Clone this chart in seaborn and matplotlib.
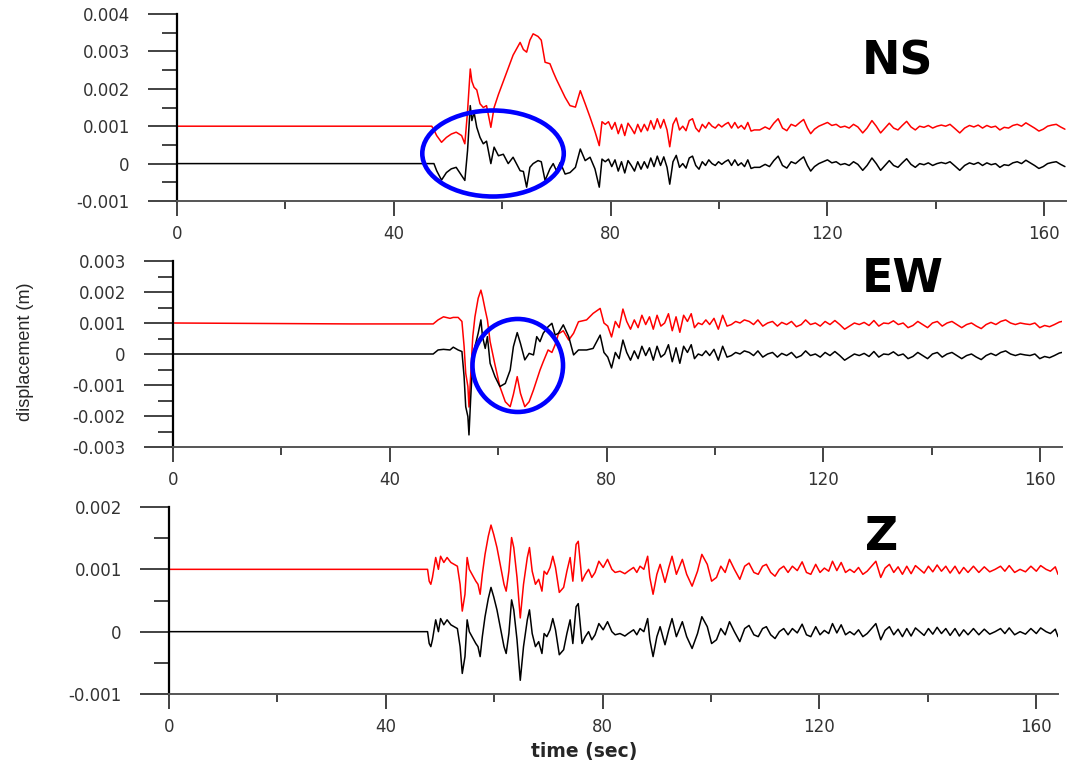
import numpy as np
import matplotlib
matplotlib.use("Agg")
import matplotlib.pyplot as plt
from matplotlib.patches import Ellipse
import seaborn as sns

sns.set_theme(style="ticks")
plt.rcParams['font.family'] = ['DejaVu Sans']

# ---------------------------------------------------------
# DATA  (time in s, displacement in units of 0.001 m)
# red record is drawn shifted up by 0.001 m
# ---------------------------------------------------------
# --- NS ---
ns_t = [0, 47.0, 47.4, 47.9, 48.8, 49.7, 50.6, 51.5, 52.5, 53.1,
        53.6, 54.1, 54.4, 54.8, 55.3, 55.9, 56.5, 57.1, 57.9, 58.5,
        59.3, 60.2, 61.1, 62.0, 63.3, 63.9, 64.5, 65.1, 65.7, 66.6,
        67.2, 67.9, 68.8, 69.4, 70.0, 70.7, 71.6, 72.5, 73.5, 74.4,
        75.3, 76.2, 77.1, 77.9]
ns_black = [0, 0, 0, -0.19, -0.44, -0.24, -0.14, -0.10, -0.32, -0.45,
            0.35, 1.55, 1.15, 1.37, 0.97, 0.70, 0.53, 0.60, 0.00, 0.44,
            0.21, 0.25, 0.00, 0.17, -0.19, -0.21, -0.63, -0.10, 0.00, 0.08,
            0.05, -0.45, -0.14, 0.00, -0.19, 0.03, -0.28, -0.24, -0.10, 0.39,
            0.08, 0.17, -0.14, -0.63]
ns_red = [0, 0, -0.10, -0.25, -0.43, -0.30, -0.21, -0.16, -0.25, -0.47,
          0.40, 1.53, 1.20, 1.04, 0.97, 0.60, 0.50, 0.55, -0.03, 0.50,
          0.85, 1.20, 1.55, 1.90, 2.24, 2.05, 1.98, 2.30, 2.47, 2.40,
          2.30, 1.71, 1.67, 1.45, 1.25, 1.04, 0.77, 0.55, 0.51, 0.95,
          0.60, 0.24, -0.14, -0.52]
ns_tail_t = [78.4, 79.0, 79.6, 80.2, 80.8, 81.4, 82.0, 82.6, 83.2, 83.8,
             84.4, 85.0, 85.6, 86.2, 86.8, 87.4, 88.0, 88.6, 89.2, 89.8,
             90.4, 90.9, 91.5, 92.1, 92.7, 93.3, 93.9, 94.5, 95.1, 95.7,
             96.3, 96.9, 97.5, 98.1, 98.7, 99.3, 99.9, 100.5, 101.1, 101.7,
             102.3, 102.9, 103.5, 104.1, 104.7, 105.3, 105.9, 106.5, 107.5, 108.5,
             109.3, 110.1, 110.9, 111.7, 112.5, 113.3, 114.1, 114.9, 115.6, 116.3,
             116.9, 117.6, 118.4, 119.2, 120.0, 120.8, 121.6, 122.4, 123.2, 124.0,
             124.8, 125.6, 126.5, 127.3, 128.2, 129.0, 129.8, 130.6, 131.4, 132.2,
             133.0, 133.8, 134.6, 135.4, 136.2, 137.0, 137.8, 138.6, 139.4, 140.2,
             141.0, 141.8, 142.6, 143.4, 144.4, 145.3, 146.2, 147.0, 147.8, 148.6,
             149.4, 150.2, 151.0, 151.8, 152.6, 153.4, 154.2, 155.0, 155.8, 156.6,
             157.4, 158.2, 159.0, 159.8, 160.6, 161.4, 162.2, 163.0, 163.8]
ns_tail = [0.12, 0.05, 0.12, -0.08, 0.10, -0.20, 0.05, -0.25, 0.08, -0.05,
           -0.20, 0.05, -0.15, 0.05, -0.12, 0.15, -0.08, 0.20, -0.05, 0.18,
           -0.10, -0.55, 0.05, 0.22, -0.10, 0.00, -0.12, 0.15, 0.20, -0.05,
           -0.15, 0.05, -0.05, 0.10, 0.00, -0.05, 0.05, -0.02, 0.05, 0.10,
           -0.05, 0.10, -0.05, 0.02, -0.08, 0.10, -0.13, -0.10, -0.10, -0.02,
           -0.08, 0.08, 0.20, -0.05, -0.12, 0.05, 0.00, 0.10, 0.18, -0.05,
           -0.20, -0.08, 0.00, 0.05, 0.10, 0.02, 0.05, -0.03, 0.00, -0.05,
           0.05, -0.02, -0.18, -0.05, 0.15, 0.00, -0.18, -0.05, 0.08, -0.05,
           -0.10, 0.02, 0.13, -0.02, -0.10, 0.00, -0.03, 0.02, -0.05, 0.00,
           0.03, 0.00, 0.05, -0.05, -0.18, -0.05, 0.02, -0.02, 0.03, -0.05,
           0.02, -0.03, 0.00, -0.10, -0.03, -0.05, 0.02, 0.05, 0.00, 0.09,
           0.02, -0.05, -0.13, -0.08, 0.00, 0.03, 0.05, -0.02, -0.08]

# --- EW ---
ew_t = [0, 33.0, 48.0, 48.9, 49.9, 51.1, 51.7, 52.6, 53.3, 53.7,
        54.0, 54.4, 54.6, 54.9, 55.3, 55.7, 56.3, 56.8, 57.1, 57.6,
        58.0, 58.5, 59.4, 60.3, 61.3, 62.2, 62.8, 63.5, 64.1, 64.9,
        65.7, 66.5, 67.1, 67.7, 68.3, 69.2, 69.9, 70.5, 71.1, 72.0,
        73.0, 73.9, 74.8, 76.3, 77.5, 78.8, 79.5]
ew_black = [0, 0, 0, 0.13, 0.15, 0.13, 0.22, 0.13, 0.08, -0.73,
            -1.70, -2.02, -2.61, -1.48, -0.19, 0.24, 0.67, 1.10, 0.56, 0.18,
            0.56, -0.30, -0.73, -1.05, -0.95, -0.52, 0.24, 0.69, 0.34, -0.19,
            0.02, -0.03, 0.56, 0.40, 0.67, 0.88, 0.99, 0.61, 0.67, 0.94,
            0.56, -0.03, 0.13, 0.13, 0.18, 0.61, 0.05]
ew_red = [0, -0.03, -0.03, 0.10, 0.20, 0.15, 0.18, 0.18, 0.05, -0.75,
          -1.62, -2.05, -2.71, -1.72, -0.44, 0.20, 0.80, 1.06, 0.85, 0.42,
          0.10, -0.60, -1.35, -2.05, -2.54, -2.70, -2.30, -1.73, -2.27, -2.70,
          -2.54, -2.16, -1.84, -1.52, -1.25, -0.87, -0.95, -0.70, -0.35, -0.25,
          -0.55, -0.33, 0.04, 0.10, 0.31, 0.47, 0.00]
ew_tail_t = [80.2, 80.9, 81.6, 82.3, 83.0, 83.7, 84.4, 85.1, 85.8, 86.5,
             87.2, 87.9, 88.6, 89.3, 90.0, 90.7, 91.4, 92.1, 92.8, 93.5,
             94.2, 94.9, 95.6, 96.2, 96.9, 97.6, 98.3, 99.0, 99.8, 100.6,
             101.4, 102.2, 103.0, 103.8, 104.6, 105.4, 106.3, 107.1, 107.9, 108.8,
             109.7, 110.6, 111.5, 112.3, 113.2, 114.1, 115.0, 115.9, 116.7, 117.6,
             118.5, 119.4, 120.3, 121.2, 122.1, 123.0, 123.9, 124.8, 125.7, 126.6,
             127.5, 128.4, 129.3, 130.2, 131.1, 132.0, 132.9, 133.8, 134.7, 135.6,
             136.5, 137.4, 138.3, 139.2, 140.1, 141.0, 141.9, 142.8, 143.7, 144.6,
             145.5, 146.4, 147.3, 148.2, 149.1, 150.0, 150.9, 151.8, 152.7, 153.6,
             154.5, 155.4, 156.3, 157.2, 158.1, 159.0, 159.9, 160.8, 161.7, 162.6,
             163.5, 164.0]
ew_tail = [-0.10, -0.45, 0.05, -0.15, 0.45, 0.05, -0.20, 0.10, -0.15, 0.25,
           -0.05, 0.20, -0.20, 0.25, -0.10, 0.00, 0.30, -0.25, 0.20, -0.30,
           0.25, 0.05, 0.30, -0.15, 0.00, -0.05, 0.10, -0.05, 0.15, -0.20,
           0.25, -0.10, -0.05, 0.05, 0.00, 0.10, 0.05, -0.05, 0.10, -0.10,
           0.00, 0.05, -0.10, 0.02, -0.05, 0.05, -0.12, -0.05, 0.10, -0.05,
           0.00, -0.10, 0.05, -0.05, 0.08, -0.05, -0.20, -0.10, 0.00, -0.05,
           0.02, -0.08, 0.08, -0.10, 0.00, -0.02, 0.07, -0.05, 0.00, -0.15,
           -0.08, 0.05, -0.05, -0.15, 0.00, 0.05, -0.10, 0.00, 0.05, -0.05,
           -0.15, -0.05, 0.00, -0.10, -0.18, -0.05, 0.02, -0.05, 0.05, 0.10,
           0.00, -0.05, 0.00, -0.03, -0.05, 0.00, -0.15, -0.08, -0.12, -0.05,
           0.03, 0.05]

# --- Z --- (both records coincide on this component)
z_t = [0, 47.7, 48.0, 48.3, 48.6, 49.2, 49.7, 50.1, 50.7, 51.3,
       52.0, 52.6, 53.2, 53.7, 54.1, 54.6, 55.0, 55.4, 55.9, 56.6,
       57.0, 57.4, 57.8, 58.3, 58.9, 59.4, 59.9, 60.5, 61.1, 61.8,
       62.2, 62.7, 63.2, 63.6, 64.2, 64.8, 65.4, 66.1, 66.5, 67.0,
       67.6, 68.2, 68.8, 69.2, 69.7, 70.3, 70.8, 71.3, 72.0, 72.8,
       73.4, 74.0, 74.5, 75.1, 75.5, 76.2, 76.8, 77.4, 78.0, 78.6,
       79.3, 80.1, 80.9, 81.7, 82.3, 83.2, 84.1, 84.7, 85.7, 86.3,
       86.9, 87.6, 88.3, 88.7, 89.3, 90.0, 90.6, 91.5, 92.2, 92.8,
       93.6, 94.7, 95.5, 96.5, 97.5, 98.3, 99.3, 100.1, 101.0]
z_black = [0, 0, -0.19, -0.24, -0.13, 0.19, 0.00, 0.21, 0.11, 0.19,
           0.11, 0.08, 0.05, -0.24, -0.67, -0.40, 0.19, 0.00, -0.08, -0.19,
           -0.24, -0.40, -0.08, 0.24, 0.53, 0.71, 0.56, 0.35, 0.08, -0.24,
           -0.35, -0.03, 0.51, 0.35, -0.13, -0.78, -0.24, 0.19, 0.35, -0.03,
           -0.24, -0.16, -0.35, -0.03, -0.08, 0.03, 0.21, 0.03, -0.37, -0.29,
           -0.03, 0.19, -0.19, 0.40, 0.45, -0.19, -0.08, 0.00, -0.13, -0.05,
           0.13, 0.03, 0.16, 0.00, -0.05, -0.03, -0.07, -0.03, 0.03, -0.05,
           0.05, 0.00, 0.21, -0.13, -0.40, -0.08, 0.08, -0.21, 0.03, 0.21,
           -0.08, 0.16, -0.08, -0.27, -0.03, 0.24, 0.08, -0.19, -0.13]
z_red = list(z_black)
z_tail_t = [101.8, 102.6, 103.4, 104.3, 105.3, 106.2, 107.0, 107.9, 108.7, 109.5,
            110.2, 111.0, 111.8, 112.6, 113.4, 114.2, 115.0, 115.9, 116.8, 117.6,
            118.4, 119.3, 120.1, 120.9, 121.7, 122.4, 123.2, 124.0, 124.8, 125.6,
            126.4, 127.2, 128.0, 128.8, 129.6, 130.4, 131.3, 132.1, 132.9, 133.7,
            134.5, 135.3, 136.1, 136.9, 137.7, 138.5, 139.3, 140.1, 140.9, 141.7,
            142.5, 143.3, 144.1, 145.0, 145.8, 146.6, 147.4, 148.4, 149.4, 150.4,
            151.4, 152.4, 153.4, 154.2, 155.0, 156.0, 157.0, 158.0, 159.0, 160.0,
            160.8, 161.8, 162.6, 163.5, 164.0]
z_tail = [0.05, -0.05, 0.16, 0.00, -0.16, 0.05, 0.10, -0.05, -0.08, 0.05,
          0.08, -0.05, -0.11, 0.00, 0.05, -0.05, 0.05, -0.02, 0.12, -0.05,
          -0.08, 0.08, -0.05, 0.02, -0.03, 0.13, -0.02, 0.11, -0.05, 0.00,
          -0.05, 0.03, -0.08, -0.03, 0.05, 0.13, -0.13, 0.02, 0.08, -0.05,
          0.04, -0.08, 0.05, -0.07, 0.06, 0.00, -0.06, 0.05, -0.04, 0.07,
          -0.03, 0.05, -0.06, 0.05, -0.07, 0.03, -0.05, 0.05, -0.05, 0.04,
          -0.04, 0.00, 0.05, -0.03, 0.06, -0.05, 0.00, -0.04, 0.05, -0.03,
          0.06, 0.00, -0.03, 0.04, -0.08]

components = ['NS', 'EW', 'Z']
y_limits = [(-0.001, 0.004), (-0.003, 0.003), (-0.001, 0.002)]
circles = [((58.3, 0.00027), 26.1, 0.0023), ((63.6, -0.00037), 16.7, 0.0030), None]

RED_SHIFT = 0.001
MM = 0.001

traces = [
    (ns_t, ns_black, ns_red, ns_tail_t, ns_tail),
    (ew_t, ew_black, ew_red, ew_tail_t, ew_tail),
    (z_t, z_black, z_red, z_tail_t, z_tail),
]

# axes boxes in figure fractions (pixel layout of the reference)
W, H = 1070, 765
boxes = [(177, 14, 201), (173, 261, 447), (169, 507, 694)]
label_pos = [(897, 62), (903, 280), (882, 538)]

fig = plt.figure(figsize=(10.7, 7.65), dpi=100)

for i, comp in enumerate(components):
    left, top, bottom = boxes[i]
    ax = fig.add_axes([left / W, 1 - bottom / H, 889 / W, (bottom - top) / H])
    t_head, blk, red, t_tail, tail = traces[i]
    t_all = np.array(t_head + t_tail)
    blk_all = np.array(blk + tail) * MM
    red_all = np.array(red + tail) * MM + RED_SHIFT

    sns.lineplot(x=t_all, y=red_all, ax=ax, color='#ff0000', linewidth=1.1,
                 estimator=None, sort=False, legend=False)
    sns.lineplot(x=t_all, y=blk_all, ax=ax, color='black', linewidth=1.1,
                 estimator=None, sort=False, legend=False)

    if circles[i] is not None:
        (cx, cy), cw, ch = circles[i]
        ax.add_patch(Ellipse((cx, cy), cw, ch, fill=False, ec='#0000ff',
                             lw=3.3, zorder=5, clip_on=False))

    lo, hi = y_limits[i]
    ax.set_xlim(0, 164)
    ax.set_ylim(lo, hi)
    major_y = np.round(np.arange(lo, hi + 1e-9, 0.001), 4)
    ax.set_yticks(major_y, ['0' if abs(v) < 1e-9 else f'{v:.3f}' for v in major_y])
    ax.set_yticks(np.round(np.arange(lo + 0.0005, hi, 0.001), 5), minor=True)
    ax.set_xticks([0, 40, 80, 120, 160], ['0', '40', '80', '120', '160'])
    ax.set_xticks([20, 60, 100, 140], minor=True)

    ax.tick_params(axis='y', which='major', length=21, width=1.2, pad=13,
                   labelsize=12, labelcolor='#333333', color='#222222')
    ax.tick_params(axis='y', which='minor', length=11, width=1.2, color='#222222')
    ax.tick_params(axis='x', which='major', length=11, width=1.2, pad=6,
                   labelsize=12, labelcolor='#333333', color='#222222')
    ax.tick_params(axis='x', which='minor', length=6, width=1.2, color='#222222')

    for side in ['top', 'right']:
        ax.spines[side].set_visible(False)
    ax.spines['left'].set_linewidth(1.6)
    ax.spines['left'].set_color('black')
    ax.spines['bottom'].set_linewidth(1.4)
    ax.spines['bottom'].set_color('#555555')
    ax.set_facecolor('white')
    ax.set_xlabel('')
    ax.set_ylabel('')

    lx, ly = label_pos[i]
    fig.text(lx / W, 1 - ly / H, comp, fontsize=33, fontweight='heavy',
             ha='center', va='center', color='black')

fig.text(25 / W, 1 - 352 / H, 'displacement (m)', rotation=90, ha='center',
         va='center', fontsize=13, family=['Liberation Sans', 'DejaVu Sans'])
fig.text(584 / W, 1 - 752 / H, 'time (sec)', ha='center', va='center',
         fontsize=13.5, fontweight='bold')

fig.savefig('out.png', dpi=100, facecolor='white')
plt.close(fig)
